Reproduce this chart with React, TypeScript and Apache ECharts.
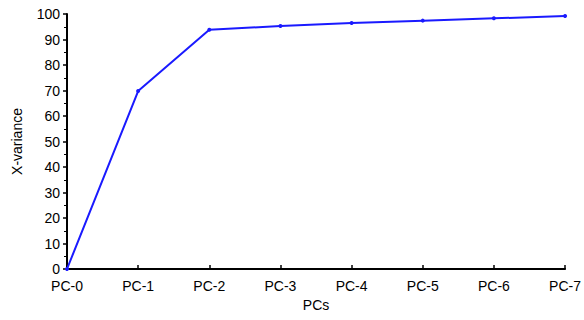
import React, { useEffect, useRef } from "react";
import * as echarts from "echarts";

const categories = ["PC-0", "PC-1", "PC-2", "PC-3", "PC-4", "PC-5", "PC-6", "PC-7"];
const xVariance = [0, 69.8, 93.8, 95.3, 96.5, 97.4, 98.3, 99.2];

export default function App() {
  const ref = useRef<HTMLDivElement>(null);
  useEffect(() => {
    if (!ref.current) return;
    const chart = echarts.init(ref.current, null, { renderer: "svg" });
    const font = "'Liberation Sans', Arial, sans-serif";
    chart.setOption({
      animation: false,
      backgroundColor: "#ffffff",
      grid: { left: 67, right: 17, top: 14, bottom: 51, containLabel: false },
      xAxis: {
        type: "category",
        data: categories,
        boundaryGap: false,
        name: "PCs",
        nameLocation: "middle",
        nameGap: 29,
        nameTextStyle: { color: "#000", fontSize: 14, fontFamily: font },
        axisLine: { lineStyle: { color: "#000", width: 2 } },
        axisTick: { inside: true, length: 4, lineStyle: { color: "#000", width: 1.5 } },
        axisLabel: { color: "#000", fontSize: 14, fontFamily: font, margin: 10 },
        splitLine: { show: false },
      },
      yAxis: {
        type: "value",
        min: 0,
        max: 100,
        interval: 10,
        name: "X-variance",
        nameLocation: "middle",
        nameGap: 43,
        nameRotate: 90,
        nameTextStyle: { color: "#000", fontSize: 14, fontFamily: font },
        axisLine: { show: true, lineStyle: { color: "#000", width: 2 } },
        axisTick: { show: true, length: 4, lineStyle: { color: "#000", width: 1.5 } },
        minorTick: { show: true, splitNumber: 2, length: 3, lineStyle: { color: "#000", width: 1 } },
        axisLabel: { color: "#000", fontSize: 14, fontFamily: font, margin: 7 },
        splitLine: { show: false },
      },
      series: [
        {
          type: "line",
          data: xVariance,
          symbol: "circle",
          symbolSize: 4,
          lineStyle: { color: "#1a1aff", width: 2 },
          itemStyle: { color: "#1a1aff" },
        },
      ],
    });
    return () => chart.dispose();
  }, []);
  return <div ref={ref} style={{ width: 584, height: 320, position: "absolute", left: 0, top: 0 }} />;
}
